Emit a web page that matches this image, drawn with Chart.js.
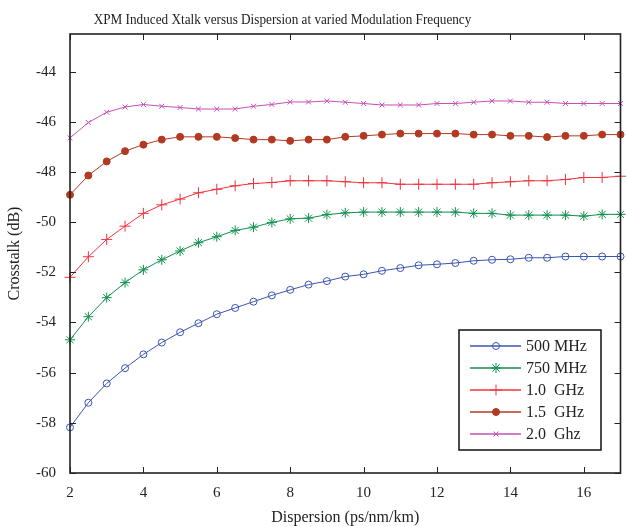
<!DOCTYPE html>
<html>
<head>
<meta charset="utf-8">
<script src="https://cdn.jsdelivr.net/npm/chart.js@4.4.0/dist/chart.umd.min.js"></script>
<style>
  body { margin: 0; background: #fff; }
</style>
</head>
<body>
<canvas id="myChart" width="627" height="527"></canvas>
<script>
// dispersion values (ps/nm/km)
const dispersion = [2, 2.5, 3, 3.5, 4, 4.5, 5, 5.5, 6, 6.5, 7, 7.5, 8, 8.5, 9, 9.5,
  10, 10.5, 11, 11.5, 12, 12.5, 13, 13.5, 14, 14.5, 15, 15.5, 16, 16.5, 17];

// crosstalk (dB) per modulation frequency
const xt500MHz = [-58.18, -57.2, -56.43, -55.82, -55.27, -54.8, -54.39, -54.03, -53.67, -53.42,
  -53.17, -52.92, -52.7, -52.49, -52.35, -52.17, -52.08, -51.94, -51.83, -51.72, -51.68,
  -51.63, -51.54, -51.5, -51.48, -51.42, -51.42, -51.37, -51.37, -51.37, -51.37];
const xt750MHz = [-54.69, -53.77, -53.01, -52.41, -51.9, -51.5, -51.15, -50.82, -50.58, -50.33,
  -50.2, -50.01, -49.87, -49.84, -49.7, -49.63, -49.6, -49.6, -49.6, -49.6, -49.6,
  -49.6, -49.65, -49.65, -49.72, -49.72, -49.72, -49.72, -49.76, -49.69, -49.69];
const xt1GHz = [-52.2, -51.38, -50.69, -50.16, -49.65, -49.31, -49.08, -48.83, -48.69, -48.55,
  -48.46, -48.42, -48.35, -48.35, -48.35, -48.39, -48.43, -48.43, -48.49, -48.49, -48.49,
  -48.49, -48.49, -48.43, -48.39, -48.35, -48.35, -48.3, -48.22, -48.22, -48.17];
const xt1_5GHz = [-48.91, -48.14, -47.58, -47.17, -46.91, -46.71, -46.6, -46.6, -46.6, -46.65,
  -46.71, -46.71, -46.76, -46.71, -46.71, -46.6, -46.56, -46.51, -46.47, -46.47, -46.47,
  -46.47, -46.51, -46.51, -46.56, -46.56, -46.61, -46.56, -46.56, -46.51, -46.51];
const xt2GHz = [-46.64, -46.03, -45.62, -45.41, -45.31, -45.38, -45.43, -45.49, -45.49, -45.49,
  -45.38, -45.31, -45.21, -45.21, -45.17, -45.22, -45.27, -45.33, -45.33, -45.33, -45.27,
  -45.27, -45.22, -45.17, -45.17, -45.22, -45.22, -45.27, -45.27, -45.27, -45.27];

const seriesNames = ["500 MHz", "750 MHz", "1.0  GHz", "1.5  GHz", "2.0  Ghz"];
const xTicks = [2, 4, 6, 8, 10, 12, 14, 16];
const yTicks = [-60, -58, -56, -54, -52, -50, -48, -46, -44];

const chartTitle = 'XPM Induced Xtalk versus Dispersion at varied Modulation Frequency';
const serif = "'Liberation Serif', 'DejaVu Serif', serif";

function pts(arr) {
  return dispersion.map((d, i) => ({x: d, y: arr[i]}));
}

function makeSet(label, arr, color, style, radius, filled) {
  return {
    label: label,
    data: pts(arr),
    borderColor: color,
    backgroundColor: filled ? color : 'rgba(0,0,0,0)',
    pointBorderColor: color,
    pointBackgroundColor: filled ? color : 'rgba(0,0,0,0)',
    pointStyle: style,
    pointRadius: radius,
    pointBorderWidth: 1,
    borderWidth: 1,
    tension: 0,
    clip: false
  };
}

const datasets = [
  makeSet(seriesNames[0], xt500MHz, '#3a55b0', 'circle', 3.5, false),
  makeSet(seriesNames[1], xt750MHz, '#11914e', 'star', 5, false),
  makeSet(seriesNames[2], xt1GHz, '#f0343e', 'cross', 5.5, false),
  makeSet(seriesNames[3], xt1_5GHz, '#b23a22', 'circle', 3.5, true),
  makeSet(seriesNames[4], xt2GHz, '#c251b5', 'crossRot', 3.5, false)
];

// frame with inward ticks, title and boxed legend, like the original figure
const framePlugin = {
  id: 'frame',
  afterDraw(chart) {
    const {ctx, chartArea: a, scales} = chart;
    ctx.save();
    ctx.strokeStyle = '#222';
    ctx.lineWidth = 1;
    ctx.beginPath();
    xTicks.forEach(v => {
      const px = Math.round(scales.x.getPixelForValue(v)) + 0.5;
      ctx.moveTo(px, a.bottom); ctx.lineTo(px, a.bottom - 6);
      ctx.moveTo(px, a.top); ctx.lineTo(px, a.top + 6);
    });
    yTicks.forEach(v => {
      const py = Math.round(scales.y.getPixelForValue(v)) + 0.5;
      ctx.moveTo(a.left, py); ctx.lineTo(a.left + 6, py);
      ctx.moveTo(a.right, py); ctx.lineTo(a.right - 6, py);
    });
    ctx.stroke();
    ctx.lineWidth = 1.6;
    ctx.strokeRect(a.left, a.top, a.right - a.left, a.bottom - a.top);
    ctx.restore();

    // title (slightly condensed like the source)
    ctx.save();
    ctx.font = '15px ' + serif;
    ctx.fillStyle = '#222';
    ctx.textAlign = 'center';
    ctx.textBaseline = 'alphabetic';
    ctx.translate(282.5, 24);
    ctx.scale(0.88, 1);
    ctx.fillText(chartTitle, 0, 0);
    ctx.restore();

    // legend box
    const lx = 459, ly = 330, lw = 142, lh = 120;
    ctx.save();
    ctx.fillStyle = '#fff';
    ctx.fillRect(lx, ly, lw, lh);
    ctx.strokeStyle = '#111';
    ctx.lineWidth = 1.5;
    ctx.strokeRect(lx, ly, lw, lh);
    ctx.font = '16px ' + serif;
    ctx.textBaseline = 'middle';
    chart.data.datasets.forEach((ds, i) => {
      const y = ly + 16 + i * 22;
      ctx.strokeStyle = ds.borderColor;
      ctx.lineWidth = 1.5;
      ctx.beginPath();
      ctx.moveTo(lx + 11, y); ctx.lineTo(lx + 62, y);
      ctx.stroke();
      ctx.fillStyle = ds.pointBackgroundColor;
      ctx.lineWidth = 1;
      Chart.helpers.drawPoint(ctx, {pointStyle: ds.pointStyle, radius: ds.pointRadius, borderWidth: 1, rotation: 0}, lx + 37, y);
      ctx.fillStyle = '#222';
      ctx.fillText(ds.label, lx + 67, y + 1);
    });
    ctx.restore();
  }
};

new Chart(document.getElementById('myChart'), {
  type: 'line',
  data: {datasets: datasets},
  plugins: [framePlugin],
  options: {
    responsive: false,
    animation: false,
    layout: {padding: {left: 0, right: 1, top: 34, bottom: 0}},
    plugins: {
      legend: {display: false},
      tooltip: {enabled: false},
      title: {display: false}
    },
    scales: {
      x: {
        type: 'linear',
        min: 2,
        max: 17,
        grid: {display: false, drawTicks: false},
        border: {display: false},
        ticks: {stepSize: 2, includeBounds: false, padding: 11, color: '#222', font: {family: serif, size: 15}, maxRotation: 0},
        title: {display: true, text: 'Dispersion (ps/nm/km)', color: '#222', font: {family: serif, size: 16}, padding: {top: 0, bottom: 0}},
        afterFit(scale) { scale.height = 54; }
      },
      y: {
        type: 'linear',
        min: -60,
        max: -42.5,
        grid: {display: false, drawTicks: false},
        border: {display: false},
        ticks: {stepSize: 2, includeBounds: false, padding: 14, color: '#222', font: {family: serif, size: 15}},
        title: {display: true, text: 'Crosstalk (dB)', color: '#222', font: {family: serif, size: 16}, padding: {top: 5, bottom: 0}},
        afterFit(scale) { scale.width = 70; }
      }
    }
  }
});
</script>
</body>
</html>
